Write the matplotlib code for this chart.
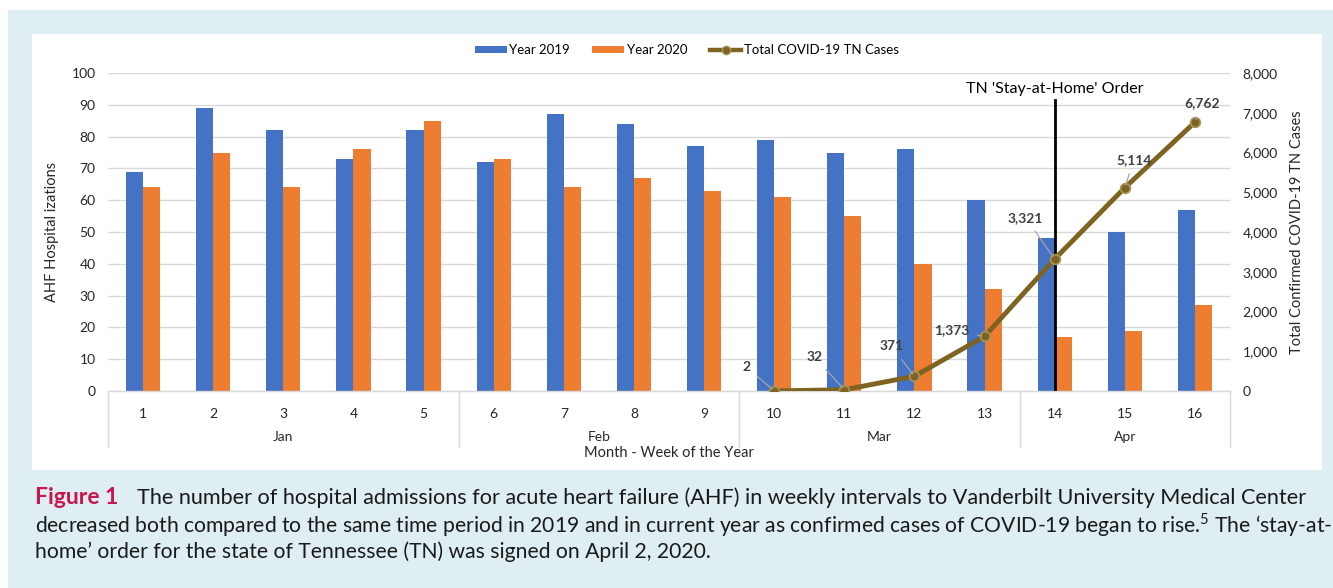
import matplotlib
matplotlib.use("Agg")
import matplotlib.pyplot as plt
from matplotlib.patches import Rectangle, Patch
from matplotlib.lines import Line2D
import numpy as np

plt.rcParams['font.family'] = ['Lato', 'DejaVu Sans']
plt.rcParams['mathtext.fontset'] = 'custom'
plt.rcParams['mathtext.rm'] = 'Lato'

weeks = ["1", "2", "3", "4", "5", "6", "7", "8", "9", "10", "11", "12", "13", "14", "15", "16"]
months = ["Jan", "Feb", "Mar", "Apr"]
month_sizes = [5, 4, 4, 3]
year2019 = [69, 89, 82, 73, 82, 72, 87, 84, 77, 79, 75, 76, 60, 48, 50, 57]
year2020 = [64, 75, 64, 76, 85, 73, 64, 67, 63, 61, 55, 40, 32, 17, 19, 27]
covid_weeks = ["10", "11", "12", "13", "14", "15", "16"]
covid_cases = [2, 32, 371, 1373, 3321, 5114, 6762]
covid_labels = ["2", "32", "371", "1,373", "3,321", "5,114", "6,762"]
label_offsets_px = [(-28, 24), (-30, 33), (-23, 30), (-33, 6), (-29, 41), (9, 28), (7, 19)]
stay_home_week = "14"

W, H = 1333, 588
fig = plt.figure(figsize=(W / 100, H / 100), dpi=100)
fig.patch.set_facecolor('white')

def fx(px):
    return px / W

def fy(py):
    return 1 - py / H

# backgrounds
fig.patches.append(Rectangle((fx(8), 0), 1 - fx(8), fy(10), transform=fig.transFigure,
                             facecolor='#deeef3', edgecolor='none', zorder=-10))
fig.patches.append(Rectangle((fx(32), fy(470)), fx(1322 - 32), (470 - 34) / H, transform=fig.transFigure,
                             facecolor='white', edgecolor='none', zorder=-9))

ax_l, ax_r, ax_t, ax_b = 108, 1230, 73, 391
ax = fig.add_axes([fx(ax_l), fy(ax_b), fx(ax_r - ax_l), (ax_b - ax_t) / H])
ax.set_facecolor('none')
x = np.arange(len(weeks))
bw = 0.245
blue = '#4472c4'
orange = '#ed7d31'
ax.bar(x - bw / 2, year2019, width=bw, color=blue, zorder=2)
ax.bar(x + bw / 2, year2020, width=bw, color=orange, zorder=2)
ax.set_xlim(-0.5, len(weeks) - 0.5)
ax.set_ylim(0, 100)
ax.set_yticks(range(0, 101, 10))
ax.grid(axis='y', color='#d9d9d9', linewidth=1.0, zorder=0)
ax.set_axisbelow(True)
for s in ['top', 'right', 'left']:
    ax.spines[s].set_visible(False)
ax.spines['bottom'].set_color('#d9d9d9')
ax.spines['bottom'].set_linewidth(1.0)
ax.tick_params(axis='y', length=0, pad=9, labelsize=10, colors='#262626')
ax.tick_params(axis='x', length=0, pad=12, labelsize=10, colors='#262626')
ax.set_xticks(x)
ax.set_xticklabels(weeks)
ax.set_ylabel("AHF Hospital izations", fontsize=10.5, color='#262626', labelpad=9)

# month groups
trans = ax.get_xaxis_transform()
start = -0.5
bottom_y = -(447 - ax_b) / (ax_b - ax_t)
for m, n in zip(months, month_sizes):
    ax.plot([start, start], [0, bottom_y], transform=trans, color='#d9d9d9', lw=1.0, clip_on=False)
    ax.text(start + n / 2, -(437 - ax_b) / (ax_b - ax_t), m, transform=trans, ha='center', va='center',
            fontsize=10, color='#262626')
    start += n
ax.plot([start, start], [0, bottom_y], transform=trans, color='#d9d9d9', lw=1.0, clip_on=False)
ax.text((len(weeks) - 1) / 2, -(453 - ax_b) / (ax_b - ax_t), "Month - Week of the Year", transform=trans,
        ha='center', va='center', fontsize=10.5, color='#262626')

# right axis
ax2 = ax.twinx()
ax2.set_ylim(0, 8000)
ax2.set_yticks(range(0, 8001, 1000))
ax2.set_yticklabels([f"{v:,}" for v in range(0, 8001, 1000)])
for s in ax2.spines.values():
    s.set_visible(False)
ax2.tick_params(axis='y', length=0, pad=9, labelsize=10, colors='#262626')
ax2.set_ylabel("Total Confirmed COVID-19 TN Cases", fontsize=10.5, color='#262626', labelpad=9)

cx = [weeks.index(w) for w in covid_weeks]
line_color = '#7f6321'
ax2.plot(cx, covid_cases, color=line_color, lw=3.5, marker='o', markersize=7,
         markerfacecolor=line_color, markeredgecolor='#a8955a', markeredgewidth=1.2, zorder=5)
for xi, yi, lab, (dx, dy) in zip(cx, covid_cases, covid_labels, label_offsets_px):
    ax2.annotate(lab, xy=(xi, yi), xytext=(dx * 0.72, dy * 0.72), textcoords='offset points',
                 ha='center', va='center', fontsize=10, fontweight='bold', color='#404040',
                 arrowprops=dict(arrowstyle='-', color='#a6a6a6', lw=0.9, shrinkA=4, shrinkB=2), zorder=6)

# stay at home line
sx = weeks.index(stay_home_week)
ax.plot([sx, sx], [0, 91.5], color='black', lw=2, zorder=4)
ax.text(sx, 95, "TN 'Stay-at-Home' Order", ha='center', va='center', fontsize=11.5, color='black')

# legend
handles = [Patch(facecolor=blue, edgecolor='none'), Patch(facecolor=orange, edgecolor='none'),
           Line2D([0], [0], color=line_color, lw=3.2, marker='o', markersize=6,
                  markerfacecolor=line_color, markeredgecolor='#a8955a')]
fig.legend(handles, ["Year 2019", "Year 2020", "Total COVID-19 TN Cases"], loc='center',
           bbox_to_anchor=(fx(687), fy(50)), ncol=3, frameon=False, fontsize=9.5,
           handlelength=2.4, handleheight=0.5, columnspacing=1.7, handletextpad=0.2)

# caption
cap_fs = 15.2
fig.text(fx(35), fy(498), "Figure 1", fontsize=16.5, color='#c8174f', fontweight='bold', va='center', ha='left')
fig.text(fx(137), fy(498), "The number of hospital admissions for acute heart failure (AHF) in weekly intervals to Vanderbilt University Medical Center",
         fontsize=15.6, color='#1a1a1a', va='center', ha='left')
fig.text(fx(35), fy(525), "decreased both compared to the same time period in 2019 and in current year as confirmed cases of COVID-19 began to rise.$^{5}$ The \u2018stay-at-",
         fontsize=cap_fs, color='#1a1a1a', va='center', ha='left')
fig.text(fx(35), fy(552), "home\u2019 order for the state of Tennessee (TN) was signed on April 2, 2020.",
         fontsize=cap_fs, color='#1a1a1a', va='center', ha='left')

fig.savefig("out.png", dpi=100, facecolor=fig.get_facecolor())
